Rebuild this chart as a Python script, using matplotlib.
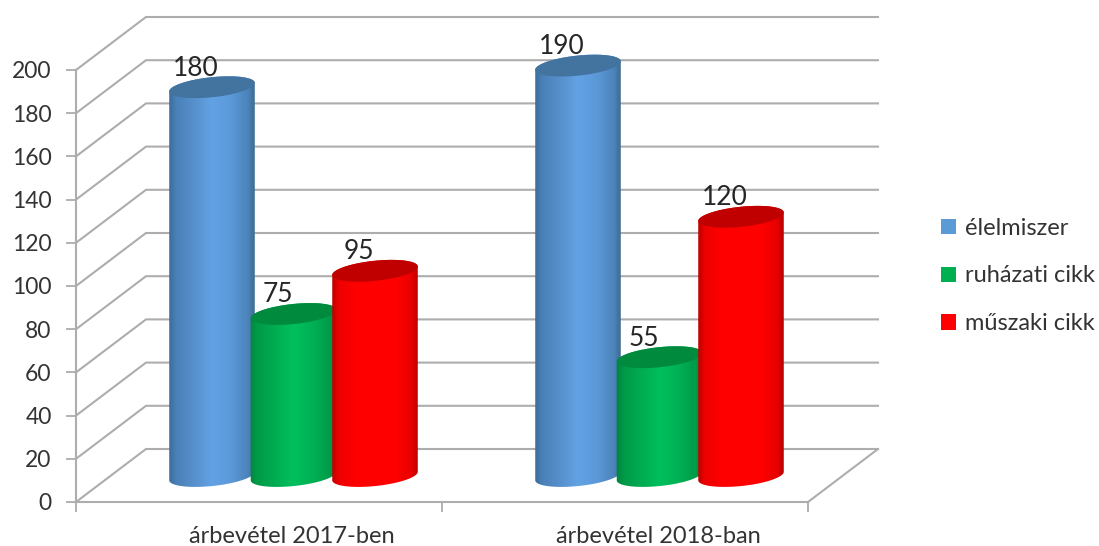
import numpy as np
import matplotlib
matplotlib.use("Agg")
import matplotlib.pyplot as plt
from matplotlib.colors import LinearSegmentedColormap
from matplotlib.patches import Patch, Polygon

categories = ["árbevétel 2017-ben", "árbevétel 2018-ban"]
series_names = ["élelmiszer", "ruházati cikk", "műszaki cikk"]
elelmiszer = [180, 190]
ruhazati = [75, 55]
muszaki = [95, 120]
yticks = list(range(0, 201, 20))

W, H = 1099, 546
L, R, T, B = 76, 808, 70, 502
GRID = "#adadad"
TXT = "#333333"
plt.rcParams["font.family"] = ["Lato", "DejaVu Sans"]

swatch = ["#5B9BD5", "#00B050", "#FF0000"]
tops = ["#43739F", "#008A3E", "#C00000"]
grads = [
    ["#386690", "#4a80b8", "#5790cc", "#62a2e4", "#5b98d8", "#4c84ba", "#386488"],
    ["#00803c", "#009a48", "#00ad52", "#00bf5c", "#00b054", "#009a48", "#008040"],
    ["#b00000", "#ee0000", "#ff0000", "#ff0000", "#ff0000", "#e80000", "#a80000"],
]
stops = [0, .1, .3, .5, .72, .9, 1]

fig = plt.figure(figsize=(W / 100, H / 100), dpi=100)
ax = fig.add_axes([L / W, 1 - B / H, (R - L) / W, (B - T) / H])
ax.set_xlim(0, 2)
ax.set_ylim(0, 200)
ax.set_autoscale_on(False)
ax.patch.set_alpha(0)

sx = 2 / (R - L)          # data units per pixel
sy = 200 / (B - T)
DX, DY = 70 * sx, 53 * sy  # wall depth

# walls, floor, gridlines
for v in yticks:
    ax.plot([0, DX, 2 + DX], [v, v + DY, v + DY], color=GRID, lw=1.5, clip_on=False, zorder=1)
ax.plot([2, 2 + DX], [0, DY], color=GRID, lw=1.5, clip_on=False, zorder=1)

for s in ("top", "right"):
    ax.spines[s].set_visible(False)
for s in ("left", "bottom"):
    ax.spines[s].set_color(GRID)
    ax.spines[s].set_linewidth(1.5)

ax.set_yticks(yticks)
ax.tick_params(axis="y", length=7, width=1.3, color=GRID, labelcolor=TXT, labelsize=16.5, pad=10.5)
ax.set_xticks([0, 1, 2])
ax.set_xticklabels([])
ax.tick_params(axis="x", which="major", length=7, width=1.3, color=GRID)
ax.set_xticks([i + .5 + 33 * sx for i in range(2)], labels=categories, minor=True)
ax.tick_params(axis="x", which="minor", length=0, labelcolor=TXT, labelsize=17, pad=17)

# cylinders
A, Bb = 43.0, 10.0
TILT = np.deg2rad(6)
GAP = 81.5 * sx
MID_X, MID_Y = 34.5 * sx, 26 * sy


def ell(cx, cy, t):
    px = A * np.cos(t) * np.cos(TILT) - Bb * np.sin(t) * np.sin(TILT)
    py = A * np.cos(t) * np.sin(TILT) + Bb * np.sin(t) * np.cos(TILT)
    return np.column_stack([cx + px * sx, cy + py * sy])


for s, vals in enumerate([elelmiszer, ruhazati, muszaki]):
    cmap = LinearSegmentedColormap.from_list("c", list(zip(stops, grads[s])))
    for c, v in enumerate(vals):
        cx = c + .5 + MID_X + (s - 1) * GAP
        cy0, cy1 = MID_Y, v + MID_Y
        low = ell(cx, cy0, np.linspace(np.pi, 2 * np.pi, 80))
        up = ell(cx, cy1, np.linspace(0, np.pi, 80))
        body = Polygon(np.vstack([low, up]), closed=True, facecolor="none", edgecolor="none",
                       transform=ax.transData, zorder=2 + s)
        ax.add_patch(body)
        body.set_clip_on(False)
        x0, x1 = cx - (A + 2) * sx, cx + (A + 2) * sx
        im = ax.imshow(np.linspace(0, 1, 256)[None, :], cmap=cmap, aspect="auto",
                       extent=[x0, x1, cy0 - 16 * sy, cy1 + 16 * sy], zorder=2 + s,
                       interpolation="bilinear")
        im.set_clip_path(body)
        im.set_clip_box(fig.bbox)
        ax.add_patch(Polygon(ell(cx, cy1, np.linspace(0, 2 * np.pi, 160)), closed=True,
                             facecolor=tops[s], edgecolor="none", clip_on=False, zorder=2 + s + .5))
        ax.annotate(str(v), (cx, cy1), xytext=(-16 * .72, 19 * .72), textcoords="offset points",
                    ha="center", va="center", fontsize=19, color="#262626", annotation_clip=False, zorder=8)

ax.set_xlim(0, 2)
ax.set_ylim(0, 200)

handles = [Patch(facecolor=c, edgecolor="none") for c in swatch]
fig.legend(handles, series_names, loc="center left", bbox_to_anchor=(941 / W, 1 - 276 / H),
           frameon=False, fontsize=17, labelcolor=TXT, handlelength=.62, handleheight=.62,
           handletextpad=.4, labelspacing=1.13, borderpad=0, borderaxespad=0)

fig.savefig("out.png", dpi=100)
